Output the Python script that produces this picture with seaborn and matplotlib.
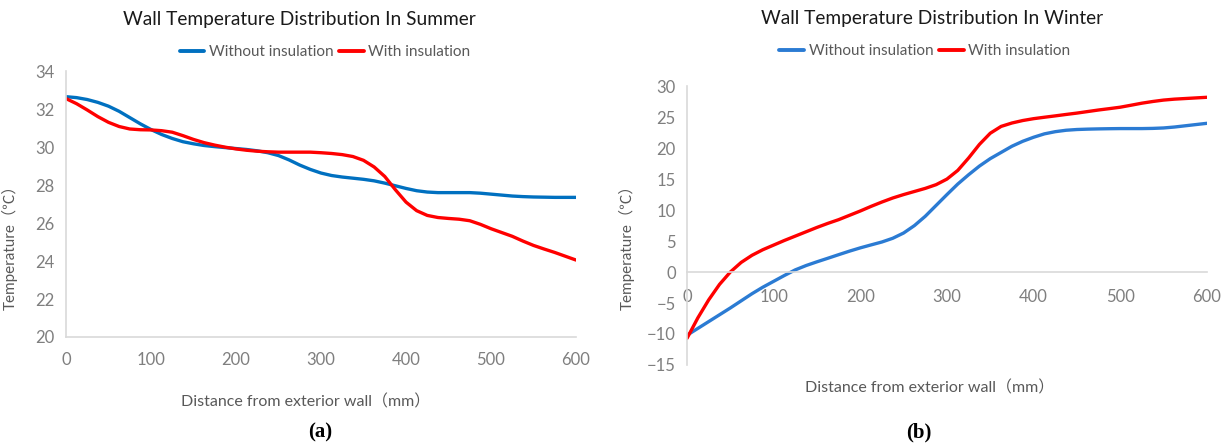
import matplotlib
matplotlib.use("Agg")
import matplotlib.pyplot as plt
import seaborn as sns
import pandas as pd

# Distance from the exterior wall surface (mm)
distance = [0, 12.5, 25, 37.5, 50, 62.5, 75, 87.5, 100, 112.5, 125, 137.5, 150,
            162.5, 175, 187.5, 200, 212.5, 225, 237.5, 250, 262.5, 275, 287.5, 300,
            312.5, 325, 337.5, 350, 362.5, 375, 387.5, 400, 412.5, 425, 437.5, 450,
            462.5, 475, 487.5, 500, 512.5, 525, 537.5, 550, 562.5, 575, 587.5, 600]

# Summer wall temperatures (°C)
summer_without = [32.65, 32.6, 32.5, 32.35, 32.15, 31.88, 31.55, 31.22, 30.92,
                  30.66, 30.45, 30.28, 30.17, 30.08, 30.02, 29.97, 29.92, 29.87,
                  29.8, 29.7, 29.55, 29.32, 29.05, 28.82, 28.63, 28.5, 28.42,
                  28.36, 28.3, 28.22, 28.1, 27.96, 27.82, 27.7, 27.63, 27.6, 27.6,
                  27.6, 27.6, 27.57, 27.52, 27.47, 27.42, 27.39, 27.37, 27.36,
                  27.35, 27.35, 27.35]
summer_with = [32.55, 32.28, 31.95, 31.6, 31.3, 31.08, 30.95, 30.91, 30.9, 30.86,
               30.78, 30.6, 30.4, 30.23, 30.1, 29.99, 29.9, 29.83, 29.78, 29.75,
               29.73, 29.73, 29.73, 29.73, 29.7, 29.66, 29.6, 29.5, 29.3, 28.95,
               28.45, 27.75, 27.1, 26.65, 26.4, 26.29, 26.24, 26.2, 26.12, 25.93,
               25.7, 25.5, 25.3, 25.05, 24.82, 24.63, 24.45, 24.25, 24.05]

# Winter wall temperatures (°C)
winter_without = [-10.2, -9.1, -8.0, -6.9, -5.8, -4.65, -3.5, -2.45, -1.5, -0.55,
                  0.35, 1.05, 1.65, 2.22, 2.8, 3.37, 3.9, 4.38, 4.85, 5.45, 6.3,
                  7.5, 9.0, 10.75, 12.5, 14.2, 15.7, 17.1, 18.3, 19.3, 20.3, 21.1,
                  21.75, 22.3, 22.65, 22.88, 23.0, 23.06, 23.1, 23.13, 23.15, 23.15,
                  23.15, 23.18, 23.25, 23.4, 23.6, 23.8, 24.0]
winter_with = [-10.7, -7.4, -4.5, -2.0, 0.0, 1.55, 2.7, 3.6, 4.35, 5.1, 5.8, 6.5,
               7.2, 7.85, 8.45, 9.15, 9.85, 10.6, 11.3, 11.95, 12.5, 13.0, 13.5,
               14.1, 15.0, 16.4, 18.4, 20.6, 22.4, 23.5, 24.05, 24.45, 24.75,
               24.98, 25.2, 25.43, 25.65, 25.9, 26.15, 26.37, 26.6, 26.92, 27.25,
               27.52, 27.75, 27.9, 28.0, 28.1, 28.2]

series_names = ["Without insulation", "With insulation"]
summer_ticks = [20, 22, 24, 26, 28, 30, 32, 34]
winter_ticks = [-15, -10, -5, 0, 5, 10, 15, 20, 25, 30]
x_ticks = [0, 100, 200, 300, 400, 500, 600]

sns.set_theme(style="white")
plt.rcParams["font.family"] = ["Lato", "Noto Sans CJK SC", "DejaVu Sans"]
plt.rcParams["axes.unicode_minus"] = True

TEXT_GRAY = "#595959"
TICK_GRAY = "#7f7f7f"
AXIS_GRAY = "#d9d9d9"


def long_frame(without, with_):
    return pd.DataFrame({
        "distance": distance * 2,
        "temperature": without + with_,
        "series": [series_names[0]] * len(distance) + [series_names[1]] * len(distance),
    })


fig = plt.figure(figsize=(12.29, 4.44), dpi=100)
ax1 = fig.add_axes([0.0537, 0.2410, 0.4150, 0.5990])
ax2 = fig.add_axes([0.5590, 0.1780, 0.4230, 0.6280])

panels = [
    (ax1, long_frame(summer_without, summer_with), ["#0070C0", "#FF0000"],
     (20, 34), summer_ticks, "Wall Temperature Distribution In Summer"),
    (ax2, long_frame(winter_without, winter_with), ["#2b7bd3", "#FF0000"],
     (-15, 30), winter_ticks, "Wall Temperature Distribution In Winter"),
]

for ax, df, colors, ylim, yticks, title in panels:
    sns.lineplot(data=df, x="distance", y="temperature", hue="series",
                 palette=dict(zip(series_names, colors)), linewidth=2.4,
                 ax=ax, legend=False, sort=False,
                 solid_joinstyle="round", solid_capstyle="round")
    ax.set_xlim(0, 600)
    ax.set_ylim(*ylim)
    ax.set_xticks(x_ticks)
    ax.set_yticks(yticks)
    ax.tick_params(axis="both", length=0, labelsize=12, colors=TICK_GRAY)
    ax.tick_params(axis="y", pad=8)
    for side in ("top", "right"):
        ax.spines[side].set_visible(False)
    for side in ("left", "bottom"):
        ax.spines[side].set_color(AXIS_GRAY)
        ax.spines[side].set_linewidth(1.2)
    ax.set_xlabel("Distance from exterior wall（mm）", fontsize=11.5, color=TEXT_GRAY)
    ax.set_ylabel("Temperature（℃）", fontsize=11, color=TEXT_GRAY)

# Summer panel: axis along the bottom
ax1.tick_params(axis="x", pad=11)
ax1.xaxis.set_label_coords(0.47, -0.215)
ax1.yaxis.set_label_coords(-0.094, 0.35)

# Winter panel: horizontal axis sits on the zero line
ax2.spines["bottom"].set_position(("data", 0))
ax2.tick_params(axis="x", pad=12)
ax2.xaxis.set_label_coords(0.467, -0.055)
ax2.yaxis.set_label_coords(-0.1, 0.435)

# Titles and legends
fig.text(0.2433, 0.955, panels[0][5], ha="center", va="center", fontsize=13.8, color="#1a1a1a")
fig.text(0.7585, 0.958, panels[1][5], ha="center", va="center", fontsize=13.8, color="#1a1a1a")

for ax, colors, anchor in [(ax1, panels[0][2], (0.2645, 0.883)),
                           (ax2, panels[1][2], (0.7526, 0.885))]:
    handles = [plt.Line2D([], [], color=c, linewidth=2.8) for c in colors]
    leg = fig.legend(handles, series_names, loc="center", bbox_to_anchor=anchor,
                     ncol=2, frameon=False, fontsize=11, handlelength=1.6,
                     handletextpad=0.3, columnspacing=0.4, borderpad=0)
    for t in leg.get_texts():
        t.set_color(TEXT_GRAY)

fig.text(0.2604, 0.025, "(a)", ha="center", va="center", fontsize=15,
         fontweight="bold", family="Liberation Serif", color="black")
fig.text(0.7478, 0.025, "(b)", ha="center", va="center", fontsize=15,
         fontweight="bold", family="Liberation Serif", color="black")

fig.savefig("out.png", dpi=100, facecolor="white")
